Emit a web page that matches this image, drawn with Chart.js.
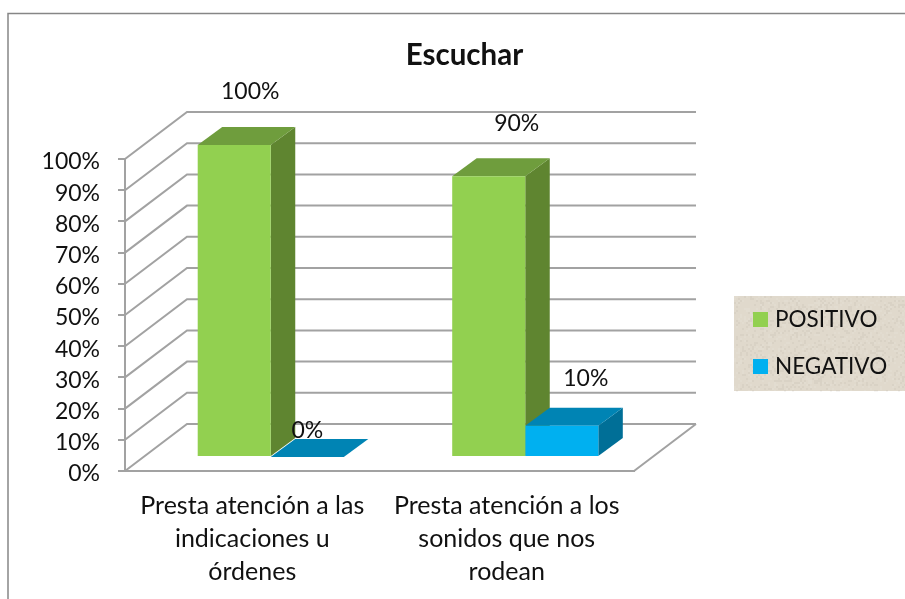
<!DOCTYPE html>
<html>
<head>
<meta charset="utf-8">
<style>html,body{margin:0;padding:0;background:#fff}canvas{display:block}</style>
<script src="https://cdn.jsdelivr.net/npm/chart.js@4/dist/chart.umd.min.js"></script>
</head>
<body>
<canvas id="c" width="905" height="599"></canvas>
<script>
const titleText = 'Escuchar';
const categories = [
  ['Presta atención a las', 'indicaciones u', 'órdenes'],
  ['Presta atención a los', 'sonidos que nos', 'rodean']
];
const positivo = [100, 90];
const negativo = [0, 10];
const yMax = 100;
const yStep = 10;

const FONT = 'Lato, Carlito, Calibri, sans-serif';
const INK = '#111111';
const GRID = '#a2a2a2';
const colors = {
  POSITIVO: {front: '#92d050', top: '#6f9d3d', side: '#5f8530'},
  NEGATIVO: {front: '#00b0f0', top: '#0084b4', side: '#006f97'}
};
// 3D projection of the plot box, in px
const wall = {dx: 62, dy: -47};
const plane = {dx: 18.5, dy: -14};
const bar3d = {dx: 24.5, dy: -18};
const labelShift = [[[16, -53], [28, -53]], [[0, -26], [24, -47]]];
const legendRect = {x: 734, y: 296, w: 171, h: 95};

function swatch(color) {
  const s = document.createElement('canvas');
  s.width = 15; s.height = 15;
  const g = s.getContext('2d');
  g.fillStyle = color;
  g.fillRect(0, 0, 15, 15);
  return s;
}

// Paper-like speckle behind the legend (decoration only, no chart data)
function paintPaper(c, r) {
  c.fillStyle = '#e0d9cc';
  c.fillRect(r.x, r.y, r.w, r.h);
  for (let py = 0; py < r.h; py += 2) {
    for (let px = 0; px < r.w; px += 2) {
      const h = Math.sin(px * 12.9898 + py * 78.233) * 43758.5453;
      const n = h - Math.floor(h);
      if (n > 0.82) {
        c.fillStyle = 'rgba(120,105,85,0.06)';
        c.fillRect(r.x + px, r.y + py, 2, 2);
      } else if (n < 0.18) {
        c.fillStyle = 'rgba(255,255,255,0.08)';
        c.fillRect(r.x + px, r.y + py, 2, 2);
      }
    }
  }
}

const threeD = {
  id: 'threeD',
  beforeLayout(chart) {
    const lg = chart.legend;
    if (!lg._wrapped) {
      const fit = lg.fit;
      lg.fit = function () { fit.call(this); this.width = 171; };
      lg._wrapped = true;
    }
  },
  afterLayout(chart) {
    const lg = chart.legend;
    lg.left = 732.75; lg.right = 905; lg.top = 283.75; lg.bottom = 599;
    const t = chart.titleBlock;
    t.left = 24; t.right = 905;
  },
  beforeDraw(chart) {
    const c = chart.ctx;
    c.save();
    c.fillStyle = '#ffffff';
    c.fillRect(0, 0, 905, 599);
    c.strokeStyle = '#868686';
    c.lineWidth = 1.5;
    c.beginPath();
    c.moveTo(8, 599); c.lineTo(8, 13.5); c.lineTo(905, 13.5);
    c.stroke();
    paintPaper(c, legendRect);
    c.restore();
  },
  beforeDatasetsDraw(chart) {
    const c = chart.ctx, y = chart.scales.y, a = chart.chartArea;
    const right = a.right + wall.dx;
    c.save();
    c.strokeStyle = GRID;
    c.lineWidth = 2;
    c.beginPath();
    y.ticks.forEach(t => {
      const p = y.getPixelForValue(t.value);
      c.moveTo(a.left, p);
      c.lineTo(a.left + wall.dx, p + wall.dy);
      c.lineTo(right, p + wall.dy);
    });
    c.moveTo(a.right, a.bottom);
    c.lineTo(right, a.bottom + wall.dy);
    c.stroke();
    // depth faces of every bar go first, so each front face sits on top of them
    c.translate(plane.dx, plane.dy);
    chart.data.datasets.forEach((ds, i) => {
      const col = colors[ds.label];
      chart.getDatasetMeta(i).data.forEach(b => {
        const l = b.x - b.width / 2, r = b.x + b.width / 2, t = b.y, bt = b.base;
        c.fillStyle = col.side;
        c.beginPath();
        c.moveTo(r, t); c.lineTo(r + bar3d.dx, t + bar3d.dy);
        c.lineTo(r + bar3d.dx, bt + bar3d.dy); c.lineTo(r, bt);
        c.closePath(); c.fill();
        c.fillStyle = col.top;
        c.beginPath();
        c.moveTo(l, t); c.lineTo(l + bar3d.dx, t + bar3d.dy);
        c.lineTo(r + bar3d.dx, t + bar3d.dy); c.lineTo(r, t);
        c.closePath(); c.fill();
      });
    });
    c.restore();
  },
  beforeDatasetDraw(chart) {
    const c = chart.ctx;
    c.save();
    c.translate(plane.dx, plane.dy);
  },
  afterDatasetDraw(chart) {
    chart.ctx.restore();
  },
  afterDatasetsDraw(chart) {
    const c = chart.ctx;
    c.save();
    c.font = '23px ' + FONT;
    c.fillStyle = INK;
    c.textAlign = 'center';
    c.textBaseline = 'middle';
    chart.data.datasets.forEach((ds, i) => {
      chart.getDatasetMeta(i).data.forEach((b, j) => {
        const s = labelShift[i][j];
        c.fillText(ds.data[j] + '%', b.x + plane.dx + s[0], b.y + plane.dy + s[1]);
      });
    });
    c.restore();
  }
};

new Chart(document.getElementById('c'), {
  type: 'bar',
  plugins: [threeD],
  data: {
    labels: categories,
    datasets: [
      {label: 'POSITIVO', data: positivo, backgroundColor: colors.POSITIVO.front, clip: false},
      {label: 'NEGATIVO', data: negativo, backgroundColor: colors.NEGATIVO.front, clip: false}
    ]
  },
  options: {
    responsive: false,
    animation: false,
    devicePixelRatio: 1,
    categoryPercentage: 0.574,
    barPercentage: 1,
    layout: {padding: {left: 0, right: 100, top: 0, bottom: 0}},
    plugins: {
      tooltip: {enabled: false},
      title: {
        display: true,
        text: titleText,
        color: INK,
        font: {family: FONT, size: 29.5, weight: 'bold', lineHeight: 1.2},
        padding: {top: 37.3, bottom: 86.3}
      },
      legend: {
        display: true,
        position: 'right',
        align: 'start',
        labels: {
          color: INK,
          boxWidth: 15,
          boxHeight: 15,
          padding: 24.5,
          usePointStyle: true,
          pointStyleWidth: 6.5,
          font: {family: FONT, size: 22.5},
          generateLabels(chart) {
            return Chart.defaults.plugins.legend.labels.generateLabels(chart)
              .map(it => Object.assign(it, {pointStyle: swatch(colors[it.text].front)}));
          }
        }
      }
    },
    scales: {
      x: {
        offset: true,
        afterFit(s) { s.height = 128; },
        grid: {display: false},
        border: {display: true, color: GRID, width: 2},
        ticks: {
          color: INK, padding: 10, maxRotation: 0, autoSkip: false,
          font: {family: FONT, size: 25, lineHeight: 33 / 25}
        }
      },
      y: {
        min: 0,
        max: yMax,
        afterFit(s) { s.width = 125; },
        grid: {drawOnChartArea: false, drawTicks: true, tickLength: 7, color: GRID, lineWidth: 2},
        border: {display: true, color: GRID, width: 2},
        ticks: {
          stepSize: yStep,
          color: INK,
          padding: 18,
          labelOffset: 3,
          font: {family: FONT, size: 23},
          callback: v => v + '%'
        }
      }
    }
  }
});
</script>
</body>
</html>
